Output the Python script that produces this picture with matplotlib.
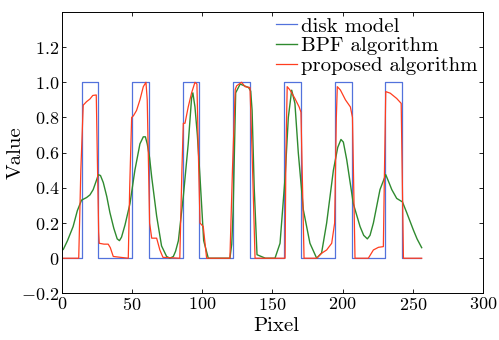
import matplotlib
matplotlib.use("Agg")
import matplotlib.pyplot as plt

# disk model (ideal rectangular disks)
disk_x = [1, 14.5, 14.5, 26, 26, 50, 50, 62, 62, 86, 86, 98, 98, 122, 122, 134, 134,
          158.5, 158.5, 170.5, 170.5, 194.5, 194.5, 206.5, 206.5, 230.5, 230.5, 242.5, 242.5, 256]
disk_y = [0, 0, 1, 1, 0, 0, 1, 1, 0, 0, 1, 1, 0, 0, 1, 1, 0,
          0, 1, 1, 0, 0, 1, 1, 0, 0, 1, 1, 0, 0]

# BPF algorithm
bpf_x = [1, 4, 8, 11, 14, 17.6, 20, 22.3, 24.5, 26, 27.5, 29.5, 32, 34.2, 37, 39.4, 41, 42.5,
         45, 48.5, 52, 55.6, 58, 59.5, 60.8, 62.5, 64, 67.5, 71, 74.6, 77, 79.4, 81, 83,
         86.5, 90, 92.4, 93.3, 94.8, 96.5, 98.4, 101, 104.3, 110, 119.7, 121, 122, 123.8,
         127, 130, 133, 134.5, 135.5, 137, 139, 145, 151.8, 155.4, 159, 161.3, 163.7, 166,
         168.4, 172, 176.7, 181.5, 185, 188.6, 193.4, 196.5, 198.8, 200.5, 202.9, 207.6,
         212.4, 215, 217.6, 219.5, 221.9, 226.6, 230.7, 233, 235, 238.5, 242.6, 245.6,
         250.4, 253, 256.3]
bpf_y = [0.05, 0.1, 0.18, 0.27, 0.33, 0.345, 0.36, 0.39, 0.44, 0.475, 0.47, 0.43, 0.35, 0.26,
         0.17, 0.11, 0.1, 0.12, 0.19, 0.31, 0.5, 0.65, 0.69, 0.69, 0.65, 0.57, 0.46, 0.24,
         0.07, 0.01, 0.0, 0.01, 0.04, 0.1, 0.35, 0.65, 0.91, 0.94, 0.86, 0.7, 0.46, 0.1, 0.0,
         0.0, 0.0, 0.08, 0.27, 0.94, 0.99, 0.98, 0.97, 0.95, 0.84, 0.4, 0.02, 0.0, 0.0, 0.085,
         0.46, 0.8, 0.955, 0.88, 0.6, 0.275, 0.085, 0.0, 0.03, 0.2, 0.5, 0.63, 0.675, 0.66,
         0.56, 0.31, 0.18, 0.13, 0.11, 0.13, 0.2, 0.39, 0.475, 0.43, 0.39, 0.34, 0.32, 0.26,
         0.16, 0.11, 0.06]

# proposed algorithm
prop_x = [1, 12, 13.5, 15.2, 17.6, 20, 22, 24.5, 25.2, 26.2, 26.6, 30, 33, 34.5, 36.6, 47.3,
          48.3, 49.7, 51, 53.2, 55.6, 58, 59.9, 60.8, 62.5, 64, 67.5, 69.8, 72, 84, 85.5,
          86.5, 87.7, 90, 92.4, 94.8, 96.2, 97.5, 98.4, 100.7, 103.1, 119.7, 121.5, 123.5,
          124.5, 128, 130.5, 134, 135.5, 137.6, 159, 159.6, 160.5, 162.5, 166, 169, 170.3,
          172.5, 181.5, 185, 188.6, 192.2, 194.3, 195.5, 196.2, 198.4, 202, 205.5, 207,
          208.8, 218.3, 221.9, 225.5, 229, 229.8, 230.7, 233.9, 238.5, 241.7, 243.3, 256.3]
prop_y = [0, 0, 0.5, 0.87, 0.89, 0.905, 0.925, 0.928, 0.6, 0.15, 0.085, 0.08, 0.08, 0.06,
          0.01, 0.0, 0.4, 0.8, 0.81, 0.84, 0.9, 0.975, 1.0, 0.9, 0.2, 0.114, 0.114, 0.047,
          0.005, 0.0, 0.5, 0.767, 0.767, 0.86, 0.94, 1.0, 0.99, 0.5, 0.2, 0.18, 0.0, 0.0,
          0.5, 0.96, 0.98, 1.0, 0.975, 0.97, 0.6, 0.0, 0.0, 0.6, 0.975, 0.956, 0.908, 0.86,
          0.83, 0.0, 0.0, 0.028, 0.047, 0.085, 0.2, 0.8, 0.975, 0.956, 0.9, 0.86, 0.8, 0.0,
          0.0, 0.047, 0.062, 0.066, 0.5, 0.947, 0.938, 0.908, 0.88, 0.0, 0.0]

x_ticks = [0, 50, 100, 150, 200, 250, 300]
y_ticks = [-0.2, 0, 0.2, 0.4, 0.6, 0.8, 1.0, 1.2]
y_tick_labels = ['$-0.2$', '$0$', '$0.2$', '$0.4$', '$0.6$', '$0.8$', '$1.0$', '$1.2$']

plt.rcParams['font.family'] = 'cmr10'
plt.rcParams['mathtext.fontset'] = 'cm'
plt.rcParams['axes.unicode_minus'] = False

fig = plt.figure(figsize=(4.99, 3.4), dpi=100)
ax = fig.add_axes([0.124, 0.137, 0.844, 0.828])

ax.plot(disk_x, disk_y, color='#5272dc', lw=0.9, label='disk model')
ax.plot(bpf_x, bpf_y, color='#2f8a2f', lw=1.0, label='BPF algorithm')
ax.plot(prop_x, prop_y, color='#ff3d1f', lw=0.9, label='proposed algorithm')

ax.set_xlim(0, 300)
ax.set_ylim(-0.2, 1.4)
ax.set_xticks(x_ticks, labels=['$%d$' % t for t in x_ticks])
ax.set_yticks(y_ticks, labels=y_tick_labels)
ax.tick_params(direction='in', top=True, right=True, labelsize=13, length=3, width=0.6, pad=2)
for s in ax.spines.values():
    s.set_linewidth(0.7)

ax.set_xlabel('Pixel', fontsize=15)
ax.set_ylabel('Value', fontsize=15)
ax.xaxis.set_label_coords(0.51, -0.085)
ax.yaxis.set_label_coords(-0.088, 0.5)

ax.legend(loc='upper right', frameon=False, fontsize=15, handlelength=1.0,
          handletextpad=0.2, labelspacing=0.05, borderaxespad=0.1, borderpad=0.15)

fig.savefig('out.png', dpi=100)
